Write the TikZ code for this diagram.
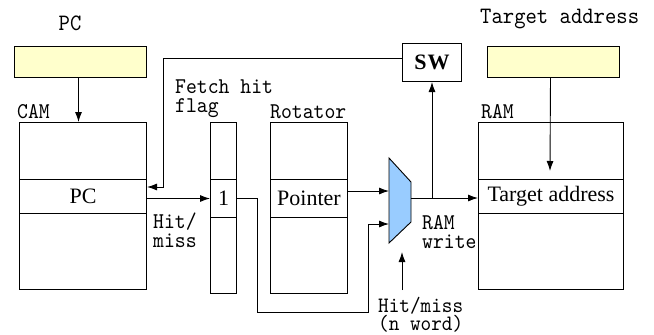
\documentclass[tikz,border=0pt]{standalone}
\usepackage{fontspec}
\setmainfont{Liberation Serif}
\newfontfamily\labfont{lmmono10-regular.otf}[FakeStretch=0.92]
\usetikzlibrary{arrows.meta}
\definecolor{regyellow}{HTML}{FFFFCC}
\definecolor{muxblue}{HTML}{99CCFF}
\tikzset{
  box/.style={draw, line width=1pt, inner sep=0pt, anchor=north west},
  reg/.style={box, fill=regyellow},
  rowbox/.style={box, font=\fontsize{22}{26}\selectfont},
  lab/.style={inner sep=0pt, anchor=base west, font=\labfont\fontsize{22.5}{26}\selectfont},
  mlab/.style={inner sep=0pt, anchor=north west, align=left, font=\labfont\fontsize{22.5}{19}\selectfont},
  toplab/.style={inner sep=0pt, anchor=base west, font=\labfont\fontsize{23.5}{28}\selectfont},
  arr/.style={line width=0.9pt, -{Latex[length=10pt,width=7pt]}},
  ln/.style={line width=0.9pt}
}
\begin{document}
\begin{tikzpicture}[x=1pt, y=-1pt]
\useasboundingbox (0,0) rectangle (654,335);
% registers
\node[reg, minimum width=132pt, minimum height=31pt] (pcreg) at (14,46) {};
\node[reg, minimum width=132pt, minimum height=31pt] (tareg) at (487,46) {};
% CAM
\node[box, minimum width=127pt, minimum height=167pt] (cam) at (19,122) {};
\node[rowbox, minimum width=127pt, minimum height=34pt] (campc) at (19,179) {PC};
% fetch hit flag
\node[box, minimum width=26pt, minimum height=171pt] (flag) at (210,122) {};
\node[rowbox, minimum width=26pt, minimum height=38pt] (flag1) at (210,179) {1};
% rotator
\node[box, minimum width=77pt, minimum height=171pt] (rot) at (270,122) {};
\node[rowbox, minimum width=77pt, minimum height=38pt] (ptr) at (270,179) {Pointer};
% RAM
\node[box, minimum width=145pt, minimum height=167pt] (ram) at (478,122) {};
\node[rowbox, minimum width=145pt, minimum height=34pt] (ramta) at (478,179) {Target address};
% SW
\node[box, minimum width=59pt, minimum height=38pt, font=\bfseries\fontsize{22}{26}\selectfont] (sw) at (402,43) {S\kern1pt W};
% mux
\draw[line width=0.9pt, fill=muxblue] (389,158) -- (411,182) -- (411,222) -- (389,243) -- cycle;
\coordinate (muxin1) at (389,191);
\coordinate (muxin2) at (389,224);
\coordinate (muxout) at (411,198);
\coordinate (br) at (432,198);
\coordinate (fb) at (163,187);
\coordinate (d1) at (257,312);
\coordinate (d2) at (368,224);
\coordinate (hm) at (402,290);
\coordinate (hmtip) at (402,252);
\coordinate (tatip) at (550,171);
% labels
\node[toplab, anchor=base] (lpc) at (70,30) {PC};
\node[toplab] (lta) at (480,23) {Target address};
\node[lab] (lcam) at (17,118) {CAM};
\node[lab] (lrot) at (270,118) {Rotator};
\node[lab] (lram) at (481,118) {RAM};
\node[mlab] (lfh) at (175,80) {Fetch hit\\flag};
\node[mlab] (lhm) at (153,213) {Hit/\\miss};
\node[mlab] (lrw) at (422,215) {RAM\\write};
\node[mlab, font=\labfont\fontsize{22}{16.5}\selectfont] (lnw) at (378,297) {Hit/miss\\(n word)};
% connectors
\draw[arr] ([xshift=-2pt]pcreg.south) -- ([xshift=-2pt]pcreg.south |- cam.north);
\draw[arr] ([yshift=4pt]sw.west) -| (fb) -- (fb -| cam.east);
\draw[arr] (campc.east |- flag1.west) -- (flag1.west);
\draw[arr] (flag1.east) -| (d1) -- (d1 -| d2) -- (d2) -- (muxin2);
\draw[arr] (ptr.east |- muxin1) -- (muxin1);
\draw[arr] (muxout) -- (muxout -| ram.west);
\draw[arr] (br) -- (br |- sw.south);
\draw[arr] (hm) -- (hmtip);
\draw[arr] ([xshift=-3pt]tareg.south) -- (tatip);
\end{tikzpicture}
\end{document}
